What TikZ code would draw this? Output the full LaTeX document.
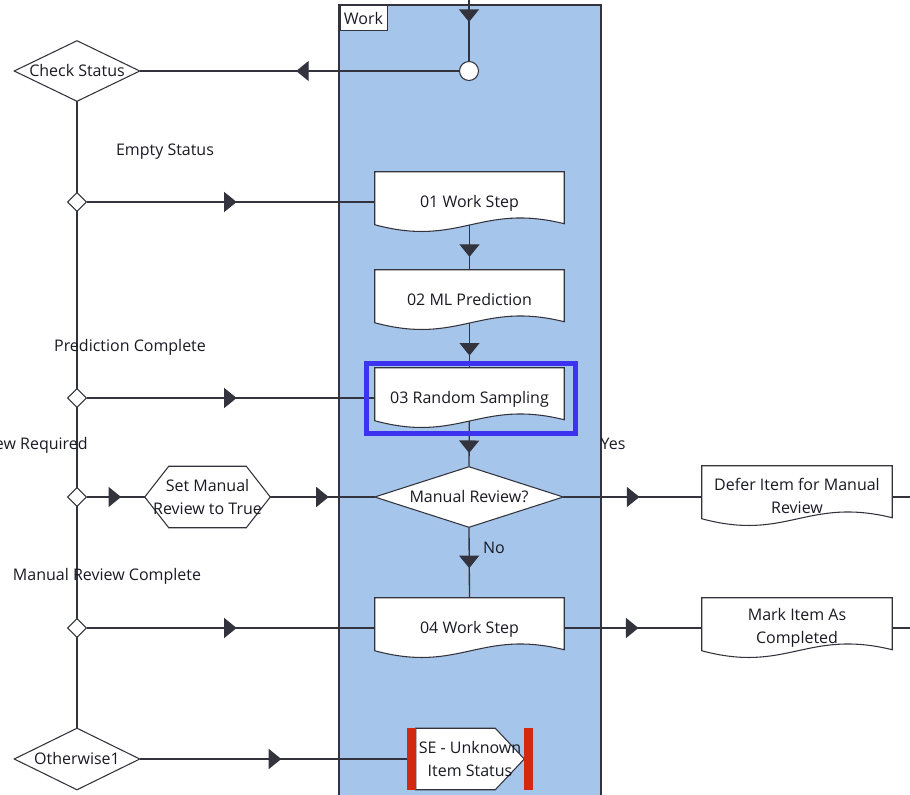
\documentclass[tikz,border=0pt]{standalone}
\usepackage{fontspec}
\setmainfont{Open Sans}
\usetikzlibrary{arrows.meta,decorations.markings,calc,shapes.geometric}
\definecolor{lanefill}{HTML}{A5C6EA}
\definecolor{ln}{HTML}{33333D}
\definecolor{txt}{HTML}{1A1A24}
\definecolor{hl}{HTML}{3C32F0}
\definecolor{sered}{HTML}{D22A10}
\pgfdeclarelayer{back}
\pgfdeclarelayer{mid}
\pgfsetlayers{back,mid,main}
\tikzset{
  conn/.style={draw=ln, line width=1pt},
  midarrow/.style={postaction={decorate}, decoration={markings, mark=at position #1 with {\arrow{Triangle[width=15pt,length=9.4pt]}}}},
  shp/.style={draw=ln, fill=white, line width=0.8pt},
  txtnode/.style={text=txt, font=\fontsize{12}{17.25}\selectfont, align=center, inner sep=0pt},
  oneline/.style={text height=9.5pt, text depth=1.5pt},
  lbl/.style={text=txt, font=\fontsize{12}{17.25}\selectfont, inner sep=0pt, oneline},
  docbox/.style={txtnode, rectangle, minimum width=141.75pt, minimum height=45pt},
  widebox/.style={txtnode, rectangle, minimum width=142.5pt, minimum height=45pt},
  dbox/.style={txtnode, rectangle, minimum width=93.75pt, minimum height=45pt},
  mrbox/.style={txtnode, rectangle, minimum width=141pt, minimum height=45pt},
  smalld/.style={diamond, shp, minimum size=14.25pt, inner sep=0pt},
}
\newcommand\docoutline[1]{\filldraw[shp] (#1.north west) -- (#1.north east) -- ($(#1.north east)+(0,52)$) .. controls ($(#1.north west)+(105,31)$) and ($(#1.north west)+(85,76)$) .. ($(#1.north west)+(0,53)$) -- cycle;}
\newcommand\diaoutline[1]{\filldraw[shp] (#1.west) -- (#1.north) -- (#1.east) -- (#1.south) -- cycle;}
\begin{document}
\begin{tikzpicture}[x=0.75pt,y=-0.75pt]
\useasboundingbox (0,0) rectangle (910,795);
% nodes
\coordinate (top) at (469,-2);
\node[circle, shp, minimum size=14.25pt, inner sep=0pt] (c) at (469,71) {};
\node[dbox, oneline] (cs) at (77,71) {Check Status};
\node[smalld] (d1) at (77,202) {};
\node[smalld] (d2) at (77,398) {};
\node[smalld] (d3) at (77,497) {};
\node[smalld] (d4) at (77,628) {};
\node[txtnode, oneline, rectangle, minimum width=93.75pt, minimum height=45.75pt] (ow) at (77,759) {Otherwise1};
\node[docbox, oneline] (ws1) at (469.5,202) {01 Work Step};
\node[docbox, oneline] (ws2) at (469.5,300) {02 ML Prediction};
\node[docbox, oneline] (ws3) at (469.5,398) {03 Random Sampling};
\node[mrbox, oneline] (mr) at (469,497) {Manual Review?};
\node[docbox, oneline] (ws4) at (469.5,628) {04 Work Step};
\node[txtnode, rectangle, minimum width=93.75pt, minimum height=45.75pt] (smt) at (207.5,497) {Set Manual\\Review to True};
\node[widebox] (defer) at (797,496) {Defer Item for Manual\\Review};
\node[widebox] (mark) at (797,628) {Mark Item As\\Completed};
\node[txtnode, rectangle, minimum width=94.5pt, minimum height=45.75pt] (se) at (470,759) {SE - Unknown\\Item Status};
\coordinate (rt1) at (912,497);
\coordinate (rt2) at (912,628);
% labels
\node[lbl] (l1) at (165,150) {Empty Status};
\node[lbl] (l2) at (130,346) {Prediction Complete};
\node[lbl, anchor=east] (l3) at (88,444) {Manual Review Required};
\node[lbl] (l4) at (107,575) {Manual Review Complete};
\node[lbl] (l5) at (613,444) {Yes};
\node[lbl] (l6) at (494,548) {No};
% lane and connectors
\begin{pgfonlayer}{back}
  \filldraw[fill=lanefill, draw=ln, line width=0.8pt] (339,5) rectangle (601,800);
  \draw[conn, midarrow=0.38] (top) -- (c.north);
  \draw[conn, midarrow=0.51] (c.west) -- (cs.east);
  \draw[conn] (cs.south) -- (ow.north);
  \draw[conn, midarrow=0.52] (d1.east) -- (ws1.west);
  \draw[conn, midarrow=0.81] (ws1.center) -- (ws2.north);
  \draw[conn, midarrow=0.82] (ws2.center) -- (ws3.north);
  \draw[conn, midarrow=0.52] (d2.east) -- (ws3.west);
  \draw[conn, midarrow=0.80] (ws3.center) -- (mr.north);
  \draw[conn, midarrow=0.59] (d3.east) -- (smt.west);
  \draw[conn, midarrow=0.56] (smt.east) -- (mr.west);
  \draw[conn, midarrow=0.55] (mr.east) -- (defer.west |- mr.east);
  \draw[conn] (defer.east |- rt1) -- (rt1);
  \draw[conn, midarrow=0.58] (mr.south) -- (ws4.north);
  \draw[conn, midarrow=0.52] (d4.east) -- (ws4.west);
  \draw[conn, midarrow=0.54] (ws4.east) -- (mark.west);
  \draw[conn] (mark.east) -- (rt2);
  \draw[conn, midarrow=0.53] (ow.east) -- (se.west);
\end{pgfonlayer}
% shapes
\begin{pgfonlayer}{mid}
  \diaoutline{cs}
  \diaoutline{mr}
  \diaoutline{ow}
  \docoutline{ws1}
  \docoutline{ws2}
  \docoutline{ws3}
  \docoutline{ws4}
  \docoutline{defer}
  \docoutline{mark}
  \filldraw[shp] (smt.west) -- ($(smt.north west)+(24,0)$) -- ($(smt.north east)+(-24,0)$) -- (smt.east) -- ($(smt.south east)+(-24,0)$) -- ($(smt.south west)+(24,0)$) -- cycle;
  \filldraw[shp] ($(se.north west)+(9,0)$) -- ($(se.north east)+(-38,0)$) -- ($(se.east)+(-9,0)$) -- ($(se.south east)+(-38,0)$) -- ($(se.south west)+(9,0)$) -- cycle;
\end{pgfonlayer}
% red bars of the SE shape
\fill[sered] (se.north west) rectangle ($(se.south west)+(9,0)$);
\fill[sered] ($(se.north east)+(-9,0)$) rectangle (se.south east);
% highlight
\draw[hl, line width=3.75pt] ($(ws3.north west)+(-8.5,-4.5)$) rectangle ($(ws3.south east)+(11,5)$);
% lane title
\node[draw=ln, fill=white, line width=0.8pt, anchor=north west, minimum width=35.25pt, minimum height=18.75pt, inner sep=0pt, text=txt, font=\fontsize{12}{14}\selectfont] (work) at (339.5,5) {Work};
\end{tikzpicture}
\end{document}
